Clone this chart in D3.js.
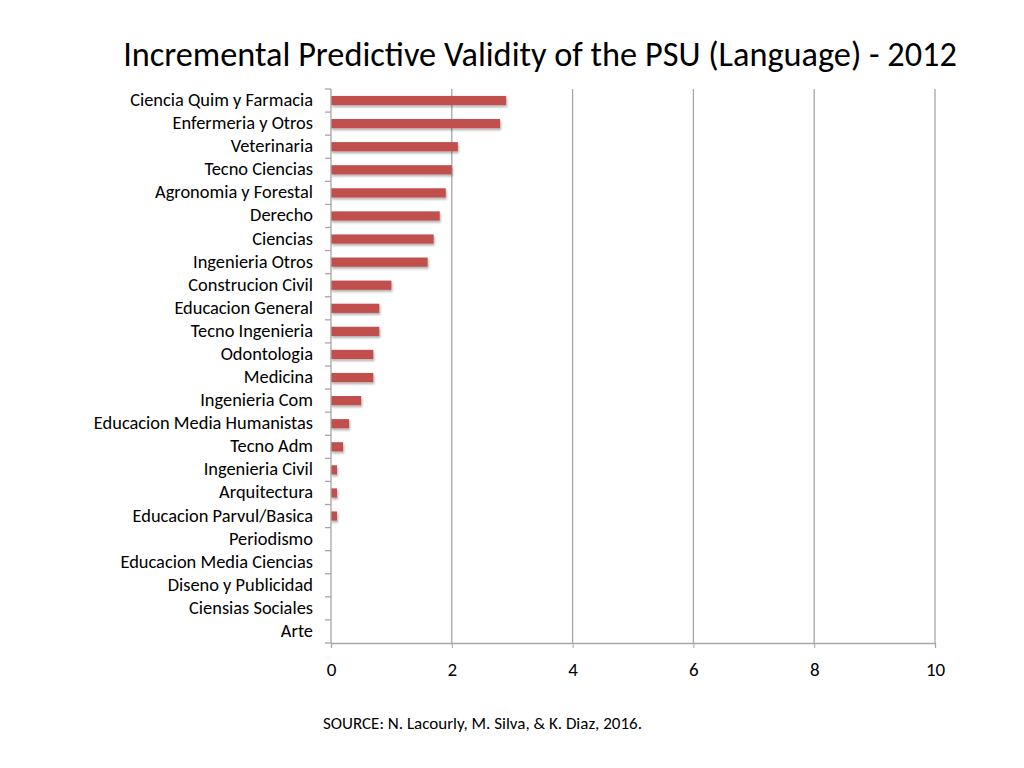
<!DOCTYPE html>
<html><head><meta charset="utf-8">
<script src="https://cdn.jsdelivr.net/npm/d3@7"></script>
<style>body{margin:0;background:#fff;} text{font-family:Carlito,Calibri,"Open Sans",sans-serif;}</style>
</head><body>
<svg id="c" width="1024" height="768"></svg>
<script>
const categories = ["Ciencia Quim y Farmacia","Enfermeria y Otros","Veterinaria","Tecno Ciencias","Agronomia y Forestal","Derecho","Ciencias","Ingenieria Otros","Construcion Civil","Educacion General","Tecno Ingenieria","Odontologia","Medicina","Ingenieria Com","Educacion Media Humanistas","Tecno Adm","Ingenieria Civil","Arquitectura","Educacion Parvul/Basica","Periodismo","Educacion Media Ciencias","Diseno y Publicidad","Ciensias Sociales","Arte"];
const values = [2.9,2.8,2.1,2.0,1.9,1.8,1.7,1.6,1.0,0.8,0.8,0.7,0.7,0.5,0.3,0.2,0.1,0.1,0.1,0,0,0,0,0];
const xTicks = [0,2,4,6,8,10];

const svg = d3.select("#c");
const m = {l:331, r:935, t:89, b:643};
const x = d3.scaleLinear().domain([0,10]).range([m.l,m.r]);
const y = d3.scaleBand().domain(categories).range([m.t,m.b]).paddingInner(0.6).paddingOuter(0.3);

const defs = svg.append("defs");
const f = defs.append("filter").attr("id","sh").attr("x","-10%").attr("y","-50%").attr("width","130%").attr("height","250%");
f.append("feDropShadow").attr("dx",1).attr("dy",2).attr("stdDeviation",1.2).attr("flood-color","#000").attr("flood-opacity",0.3);

svg.append("text").attr("x",540).attr("y",66).attr("text-anchor","middle").attr("font-size",34.3).attr("fill","#000").text("Incremental Predictive Validity of the PSU (Language) - 2012");

// gridlines
svg.append("g").selectAll("line").data(xTicks.slice(1)).join("line")
  .attr("x1",d=>x(d)).attr("x2",d=>x(d)).attr("y1",m.t).attr("y2",m.b)
  .attr("stroke","#a6a6a6").attr("stroke-width",1.3);

// bottom axis
const xa = svg.append("g").attr("transform",`translate(0,${m.b})`).call(d3.axisBottom(x).tickValues(xTicks).tickSize(5).tickPadding(15).tickFormat(d3.format("d")));
xa.select(".domain").attr("stroke","#a6a6a6").attr("stroke-width",1.3);
xa.selectAll(".tick line").attr("stroke","#a6a6a6");
xa.selectAll("text").attr("font-size",19).attr("fill","#000").attr("font-family",'Carlito,Calibri,"Open Sans",sans-serif');

// bars
svg.append("g").selectAll("rect").data(values).join("rect")
  .attr("x",x(0)).attr("y",(d,i)=>y(categories[i])).attr("width",d=>x(d)-x(0)).attr("height",y.bandwidth())
  .attr("fill","#c0504d").attr("filter","url(#sh)");

// left axis
const yb = d3.scaleLinear().domain([0,categories.length]).range([m.t,m.b]);
const lg = svg.append("g");
lg.append("line").attr("x1",m.l).attr("x2",m.l).attr("y1",m.t).attr("y2",m.b).attr("stroke","#a6a6a6").attr("stroke-width",1.3);
lg.selectAll("line.t").data(d3.range(categories.length+1)).join("line").attr("class","t")
  .attr("x1",m.l-6).attr("x2",m.l).attr("y1",d=>yb(d)).attr("y2",d=>yb(d)).attr("stroke","#a6a6a6").attr("stroke-width",1.3);
lg.selectAll("text").data(categories).join("text")
  .attr("x",313).attr("y",d=>y(d)+y.bandwidth()/2).attr("dy","0.3em").attr("text-anchor","end")
  .attr("font-size",18.4).attr("fill","#000").text(d=>d);

svg.append("text").attr("x",323).attr("y",729).attr("font-size",17).attr("fill","#000").text("SOURCE: N. Lacourly, M. Silva, & K. Diaz, 2016.");
</script>
</body></html>
